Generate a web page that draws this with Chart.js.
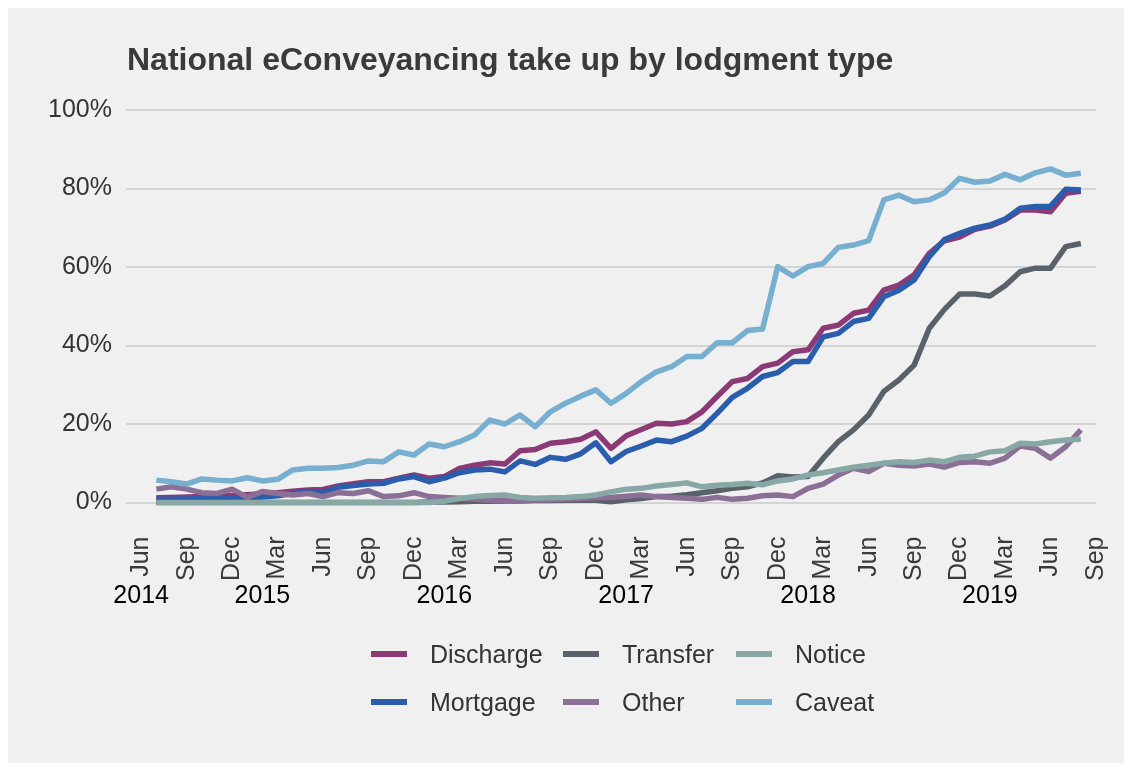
<!DOCTYPE html>
<html>
<head>
<meta charset="utf-8">
<script src="https://cdn.jsdelivr.net/npm/chart.js@4.4.1/dist/chart.umd.min.js"></script>
<style>
  html, body { margin: 0; padding: 0; background: #ffffff; }
  #panel { position: absolute; left: 8px; top: 8px; width: 1116px; height: 755px; background: #f0f0f0; overflow: hidden; }
  #chart { position: absolute; left: 0; top: 0; }
  #title { position: absolute; left: 119px; top: 35px; margin: 0; font: bold 32px "Liberation Sans", Arial, sans-serif; line-height: 32px; color: #3a3a3a; white-space: nowrap; }
  #legend { position: absolute; left: 363px; top: 622px; display: grid; grid-template-columns: 192px 173px auto; grid-auto-rows: 48px; font: 25px "Liberation Sans", Arial, sans-serif; color: #333333; }
  .item { display: flex; align-items: center; white-space: nowrap; }
  .key { width: 36px; height: 6px; margin-right: 23px; }
</style>
</head>
<body>
<div id="panel">
  <canvas id="chart" width="1116" height="755"></canvas>
  <div id="title">National eConveyancing take up by lodgment type</div>
  <div id="legend"></div>
</div>
<script>
// ---- Data ----
const months = [
  '2014-07','2014-08','2014-09','2014-10','2014-11','2014-12',
  '2015-01','2015-02','2015-03','2015-04','2015-05','2015-06','2015-07','2015-08','2015-09','2015-10','2015-11','2015-12',
  '2016-01','2016-02','2016-03','2016-04','2016-05','2016-06','2016-07','2016-08','2016-09','2016-10','2016-11','2016-12',
  '2017-01','2017-02','2017-03','2017-04','2017-05','2017-06','2017-07','2017-08','2017-09','2017-10','2017-11','2017-12',
  '2018-01','2018-02','2018-03','2018-04','2018-05','2018-06','2018-07','2018-08','2018-09','2018-10','2018-11','2018-12',
  '2019-01','2019-02','2019-03','2019-04','2019-05','2019-06','2019-07','2019-08'
];

const discharge = [1.2,1.3,1.4,1.5,1.6,1.8,2.0,2.2,2.5,2.9, 3.2,3.3,4.2,4.8,5.3,5.3,6.2,7.0,6.2,6.6,
  8.7,9.5,10.1,9.8,13.2,13.5,15.1,15.5,16.1,18.0, 13.8,17.0,18.6,20.2,20.0,20.6,23.1,27.0,30.8,31.6,
  34.6,35.5,38.4,38.9,44.4,45.2,48.2,49.0,54.1,55.4, 58.0,63.5,66.7,67.6,69.6,70.4,72.0,74.5,74.5,74.1, 78.8,79.3];

const mortgage = [0.8,0.8,0.9,1.0,1.0,1.1,1.2,1.4,1.7,2.3, 2.8,2.4,3.9,4.3,4.7,4.9,6.0,6.6,5.3,6.2,
  7.6,8.3,8.5,7.8,10.6,9.7,11.5,11.0,12.4,15.2, 10.4,13.0,14.4,15.9,15.5,16.9,18.9,22.7,26.8,29.1,
  32.1,33.1,35.9,35.9,42.2,43.1,46.1,46.9,52.4,54.1, 56.7,62.6,67.0,68.6,69.9,70.7,72.2,75.0,75.4,75.5, 79.8,79.6];

const transfer = [0,0,0,0,0,0,0,0,0,0, 0,0,0,0,0,0,0,0,0.1,0.1,
  0.2,0.3,0.3,0.4,0.4,0.5,0.5,0.6,0.6,0.6, 0.2,0.7,1.0,1.5,1.6,2.0,2.5,3.0,3.6,4.0,
  5.0,6.8,6.5,6.6,11.3,15.5,18.5,22.3,28.3,31.2, 35.0,44.4,49.2,53.1,53.1,52.6,55.2,58.8,59.7,59.7, 65.2,66.0];

const other = [3.4,4.0,3.4,2.5,2.3,3.4,1.3,2.8,2.3,1.9, 2.3,1.5,2.5,2.3,3.0,1.5,1.7,2.5,1.5,1.3,
  1.1,0.8,0.6,0.6,0.5,0.6,0.7,0.8,1.0,1.2, 1.3,1.6,1.9,1.5,1.3,1.1,0.8,1.3,0.8,1.1,
  1.7,1.9,1.5,3.6,4.7,7.0,8.7,7.9,10.0,9.5, 9.3,9.8,9.0,10.2,10.4,10.0,11.3,14.4,13.8,11.3, 14.2,18.5];

const notice = [0,0,0,0,0,0,0,0,0,0, 0,0,0,0,0,0,0,0,0,0.3,
  1.0,1.5,1.8,1.9,1.3,1.1,1.2,1.3,1.5,1.9, 2.7,3.4,3.6,4.2,4.6,5.0,4.0,4.4,4.6,4.9,
  4.5,5.5,6.0,7.0,7.6,8.3,9.0,9.5,10.0,10.4, 10.2,10.8,10.4,11.5,11.8,12.9,13.2,15.1,14.9,15.5, 15.9,16.1];

const caveat = [5.7,5.3,4.7,6.0,5.7,5.5,6.3,5.5,5.9,8.3, 8.7,8.7,8.9,9.5,10.6,10.4,12.9,12.1,14.9,14.2,
  15.5,17.2,21.0,20.0,22.3,19.3,23.1,25.3,27.1,28.7, 25.3,27.8,30.8,33.3,34.6,37.2,37.2,40.7,40.7,43.8,
  44.2,60.1,57.7,60.1,60.9,65.0,65.6,66.7,77.1,78.3, 76.6,77.1,78.9,82.6,81.6,81.9,83.6,82.2,84.0,85.0, 83.4,83.9];

// axis ticks
const monthTicks = ['2014-06','2014-09','2014-12','2015-03','2015-06','2015-09','2015-12',
  '2016-03','2016-06','2016-09','2016-12','2017-03','2017-06','2017-09','2017-12',
  '2018-03','2018-06','2018-09','2018-12','2019-03','2019-06','2019-09'];
const monthNames = ['Jan','Feb','Mar','Apr','May','Jun','Jul','Aug','Sep','Oct','Nov','Dec'];
const yearTicks = ['2014-06','2015-02','2016-02','2017-02','2018-02','2019-02'];
const yearLabels = ['2014','2015','2016','2017','2018','2019'];
const yTicks = [0, 20, 40, 60, 80, 100];
const xMinMonth = '2014-05';
const xMaxMonth = '2019-09';

const seriesNames = ['Discharge','Mortgage','Transfer','Other','Notice','Caveat'];
const seriesValues = [discharge, mortgage, transfer, other, notice, caveat];
const seriesColors = ['#8b3a75','#2b5dad','#59616b','#8c6f96','#88a8a6','#76afd0'];
const legendOrder = ['Discharge','Transfer','Notice','Mortgage','Other','Caveat'];

// ---- helpers ----
function monthIndex(s) {
  const [y, m] = s.split('-').map(Number);
  return (y - 2014) * 12 + (m - 6);
}

const FONT = '"Liberation Sans", Arial, sans-serif';
Chart.defaults.font.family = FONT;

const datasets = seriesNames.map((name, i) => ({
  label: name,
  data: months.map((m, j) => ({ x: monthIndex(m), y: seriesValues[i][j] })),
  borderColor: seriesColors[i],
  backgroundColor: seriesColors[i],
  borderWidth: 5.5,
  pointRadius: 0,
  pointHoverRadius: 0,
  tension: 0,
  fill: false,
  clip: false,
  borderCapStyle: 'butt',
  borderJoinStyle: 'round',
  order: seriesNames.length - 1 - i
}));

function noPad(ax) { ax.paddingLeft = 0; ax.paddingRight = 0; ax.paddingTop = 0; ax.paddingBottom = 0; }

const chart = new Chart(document.getElementById('chart'), {
  type: 'line',
  data: { datasets },
  options: {
    responsive: false,
    animation: false,
    events: [],
    layout: { padding: { top: 102, right: 28, left: 0, bottom: 148.5 } },
    plugins: { legend: { display: false }, title: { display: false }, tooltip: { enabled: false } },
    scales: {
      y: {
        type: 'linear',
        min: 0, max: 100,
        afterBuildTicks: (ax) => { ax.ticks = yTicks.map(v => ({ value: v })); },
        afterFit: (ax) => { ax.width = 118; noPad(ax); },
        grid: { color: '#d4d4d4', lineWidth: 2, drawTicks: false },
        border: { display: false },
        ticks: { padding: 14, color: '#333333', font: { size: 25 }, callback: (v) => v + '%' }
      },
      x: {
        type: 'linear',
        position: 'bottom',
        weight: 0,
        min: monthIndex(xMinMonth), max: monthIndex(xMaxMonth),
        afterBuildTicks: (ax) => { ax.ticks = monthTicks.map(m => ({ value: monthIndex(m) })); },
        afterFit: (ax) => { ax.height = 79; noPad(ax); },
        grid: { display: false, drawTicks: false },
        border: { display: false },
        ticks: {
          autoSkip: false, minRotation: 90, maxRotation: 90, padding: 34,
          color: '#3a3a3a', font: { size: 25 },
          callback: (v, i) => monthNames[Number(monthTicks[i].split('-')[1]) - 1]
        }
      },
      year: {
        type: 'linear',
        position: 'bottom',
        axis: 'x',
        weight: 1,
        min: monthIndex(xMinMonth), max: monthIndex(xMaxMonth),
        afterBuildTicks: (ax) => { ax.ticks = yearTicks.map(m => ({ value: monthIndex(m) })); },
        afterFit: (ax) => { ax.height = 33; noPad(ax); },
        grid: { display: false, drawTicks: false },
        border: { display: false },
        ticks: {
          autoSkip: false, maxRotation: 0, minRotation: 0, padding: 2,
          color: '#000000', font: { size: 25, lineHeight: 1 },
          callback: (v, i) => yearLabels[i]
        }
      }
    }
  }
});

// HTML legend built from the chart's datasets
const legendEl = document.getElementById('legend');
legendOrder.forEach(name => {
  const ds = chart.data.datasets.find(d => d.label === name);
  const item = document.createElement('div');
  item.className = 'item';
  const key = document.createElement('span');
  key.className = 'key';
  key.style.background = ds.borderColor;
  const txt = document.createElement('span');
  txt.textContent = ds.label;
  item.appendChild(key);
  item.appendChild(txt);
  legendEl.appendChild(item);
});
</script>
</body>
</html>
